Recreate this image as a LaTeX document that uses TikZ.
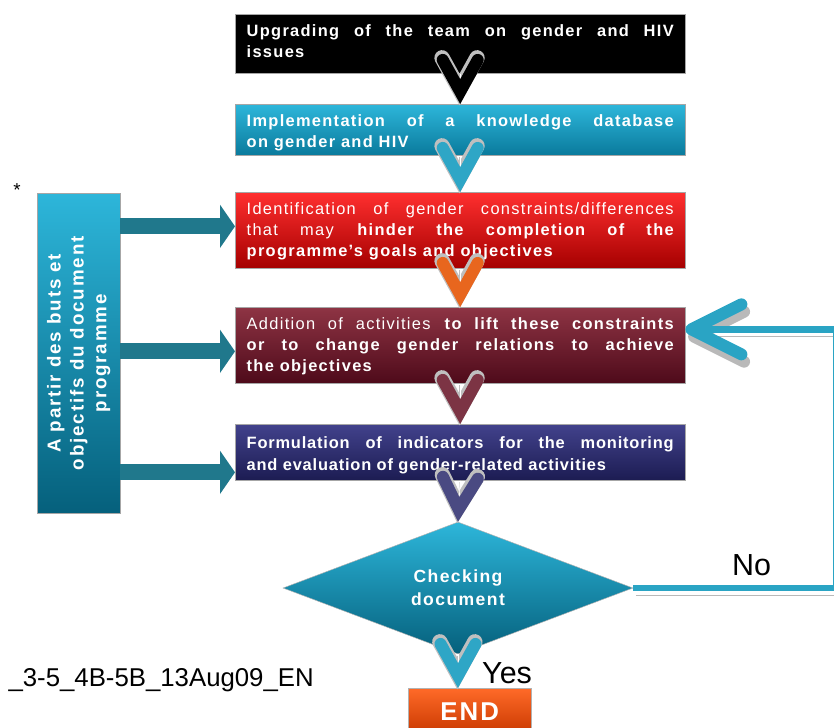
\documentclass[tikz,border=0pt]{standalone}
\usepackage{fontspec}
\usepackage{graphicx}
\setmainfont{Liberation Sans}
\newfontfamily\boxfont[LetterSpace=8]{Liberation Sans}
\newfontfamily\plainfont[LetterSpace=5]{Liberation Sans}
\newfontfamily\srcfont[LetterSpace=10]{Liberation Sans}
\usetikzlibrary{arrows.meta,shapes.geometric,positioning}

\definecolor{cyanTop}{HTML}{2DB6DA}
\definecolor{cyanBot}{HTML}{0A7A9C}
\definecolor{deepCyan}{HTML}{05607C}
\definecolor{redTop}{HTML}{FF2F2F}
\definecolor{redBot}{HTML}{A50000}
\definecolor{wineTop}{HTML}{8E3444}
\definecolor{wineBot}{HTML}{4E0A1A}
\definecolor{navyTop}{HTML}{42428C}
\definecolor{navyBot}{HTML}{1C1C52}
\definecolor{orangeTop}{HTML}{FF6A28}
\definecolor{orangeBot}{HTML}{C83800}
\definecolor{sidecol}{HTML}{20788C}
\definecolor{chevcyan}{HTML}{2EA6C6}
\definecolor{chevorange}{HTML}{E8661E}
\definecolor{chevwine}{HTML}{7C3444}
\definecolor{chevnavy}{HTML}{4A4A82}
\definecolor{loopcol}{HTML}{2AA4C4}

\tikzset{
  stage/.style={rectangle, anchor=north west, draw=gray!70, line width=0.6pt,
    inner xsep=0.34cm, inner ysep=0pt, text width=12.81cm, align=justify,
    text=white, font=\boxfont\fontsize{14}{17.9}\selectfont, text height=0.66cm},
  barb/.style 2 args={-{Straight Barb[length=0.95cm, width=1.05cm, line width=#2,
    line cap=round, line join=miter, color=#1]}},
  chev/.style={white, line width=0.5pt, barb={#1}{0.36cm},
    preaction={draw=gray!50, barb={gray!50}{0.46cm}, transform canvas={shift={(-0.02cm,-0.04cm)}}}},
  feed/.style={draw=sidecol, line width=0.48cm, -{Triangle[length=0.45cm, width=1.3cm, line width=0pt]}},
  backline/.style={draw=loopcol, line width=0.2cm,
    -{Straight Barb[length=1.5cm, width=1.5cm, line width=0.36cm, round]},
    preaction={draw=gray!55, transform canvas={shift={(0.08cm,-0.22cm)}}}},
}

\begin{document}
\begin{tikzpicture}[x=0.03cm, y=-0.03cm]
  \useasboundingbox (0,0) rectangle (834,728);

  % the five stages
  \node[stage, fill=black, text depth=1.11cm] (b1) at (235,14)
    {\bfseries Upgrading of the team on gender and HIV\linebreak issues};
  \node[stage, top color=cyanTop, bottom color=cyanBot, text depth=0.87cm] (b2) at (235,104)
    {\bfseries Implementation of a knowledge database\linebreak on gender and HIV};
  \node[stage, top color=redTop, bottom color=redBot, text depth=1.62cm] (b3) at (235,192)
    {Identification of gender constraints/differences\linebreak that may \textbf{hinder the completion of the\linebreak programme’s goals and objectives}};
  \node[stage, top color=wineTop, bottom color=wineBot, text depth=1.62cm] (b4) at (235,307)
    {Addition of activities \textbf{to lift these constraints\linebreak or to change gender relations to achieve\linebreak the objectives}};
  \node[stage, top color=navyTop, bottom color=navyBot, text height=0.72cm, text depth=0.96cm,
    font=\plainfont\fontsize{14}{18.5}\selectfont] (b5) at (235,424)
    {\bfseries Formulation of indicators for the monitoring\linebreak and evaluation of gender-related activities};

  % check and end
  \node[diamond, minimum width=10.5cm, minimum height=3.96cm, inner sep=0pt,
    top color=cyanTop, bottom color=deepCyan, draw=gray!60, text=white, align=center,
    font=\boxfont\bfseries\fontsize{15}{19.5}\selectfont] (dec) at (458,588) {Checking\\document};
  \node[anchor=north west, minimum width=3.69cm, minimum height=1.4cm, inner sep=0pt,
    top color=orangeTop, bottom color=orangeBot, draw=gray!60, text=white,
    font=\boxfont\bfseries\fontsize{22}{24}\selectfont] (finish) at (408,688) {END};

  % source box on the left
  \node[anchor=north west, minimum width=2.49cm, minimum height=9.6cm, inner sep=0pt,
    top color=cyanTop, bottom color=deepCyan, draw=gray!70, text=white] (src) at (37,193)
    {\rotatebox{90}{\parbox{9cm}{\centering\srcfont\bfseries\fontsize{16}{19.5}\selectfont
      A partir des buts et\\objectifs du document\\programme}}};

  \node[inner sep=0pt, font=\fontsize{16}{18}\selectfont] (star) at (17,190) {*};
  \node[anchor=base east, inner sep=0pt, font=\fontsize{22}{26}\selectfont] (code) at (314,686)
    {\_3-5\_4B-5B\_13Aug09\_EN};
  \node[anchor=base west, inner sep=0pt, font=\fontsize{26}{30}\selectfont] (yes) at (482,683) {Yes};
  \node[anchor=base west, inner sep=0pt, font=\fontsize{26}{30}\selectfont] (no) at (732,575) {No};

  % side arrows
  \coordinate (in3) at ([yshift=0.12cm]b3.west);
  \coordinate (in4) at ([yshift=-0.18cm]b4.west);
  \coordinate (in5) at ([yshift=-0.6cm]b5.west);
  \draw[feed] (src.east |- in3) -- (in3);
  \draw[feed] (src.east |- in4) -- (in4);
  \draw[feed] (src.east |- in5) -- (in5);

  % flow down
  \draw[chev=black] (b1.south) -- (b2.north);
  \draw[chev=chevcyan] (b2.south) -- (b3.north);
  \draw[chev=chevorange] (b3.south) -- (b4.north);
  \draw[chev=chevwine] (b4.south) -- (b5.north);
  \draw[chev=chevnavy] (b5.south) -- (dec.north);
  \draw[chev=chevcyan] (dec.south) -- (finish.north -| dec.south);

  % back to the stages
  \coordinate (ret) at (836,0);
  \coordinate (back) at ([yshift=0.48cm]b4.east);
  \draw[backline] (dec.east) -- (dec.east -| ret) |- (back);
\end{tikzpicture}
\end{document}
